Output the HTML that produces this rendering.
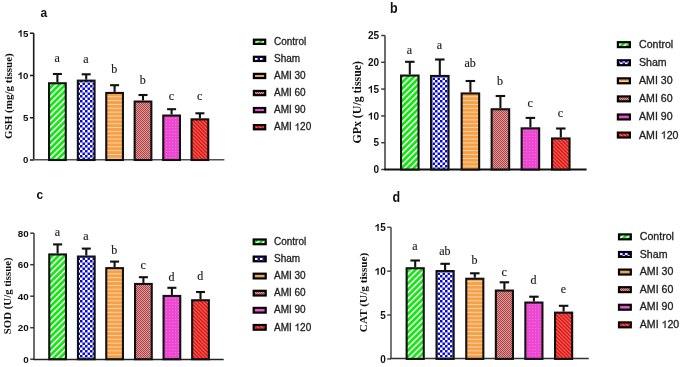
<!DOCTYPE html>
<html><head><meta charset="utf-8"><title>Figure</title>
<style>
html,body{margin:0;padding:0;background:#fff;}
body{width:685px;height:367px;overflow:hidden;font-family:"Liberation Sans", sans-serif;}
svg{display:block;will-change:transform;filter:blur(0.35px);}
</style></head>
<body>
<svg width="685" height="367" viewBox="0 0 685 367">

<defs>
  <pattern id="pG" patternUnits="userSpaceOnUse" width="4.3" height="4.3" patternTransform="rotate(45)">
    <rect width="4.3" height="4.3" fill="#14e614"/>
    <rect width="1.5" height="4.3" fill="#ffffff"/>
  </pattern>
  <pattern id="pB" patternUnits="userSpaceOnUse" width="5" height="5">
    <rect width="5" height="5" fill="#ffffff"/>
    <rect width="2.5" height="2.5" fill="#0a0ad2"/>
    <rect x="2.5" y="2.5" width="2.5" height="2.5" fill="#0a0ad2"/>
  </pattern>
  <pattern id="pO" patternUnits="userSpaceOnUse" width="4" height="3.85">
    <rect width="4" height="3.85" fill="#f6a048"/>
    <rect width="4" height="1" fill="#fbd4a6"/>
  </pattern>
  <pattern id="pM" patternUnits="userSpaceOnUse" width="2" height="2">
    <rect width="2" height="2" fill="#e09a9a"/>
    <rect width="1" height="1" fill="#a84448"/>
    <rect x="1" y="1" width="1" height="1" fill="#a84448"/>
  </pattern>
  <pattern id="pP" patternUnits="userSpaceOnUse" width="3" height="3">
    <rect width="3" height="3" fill="#ee48d2"/>
    <rect x="1" y="1" width="1" height="1" fill="#f27ade"/>
  </pattern>
  <pattern id="pR" patternUnits="userSpaceOnUse" width="2.6" height="2.6" patternTransform="rotate(-45)">
    <rect width="2.6" height="2.6" fill="#ea2020"/>
    <rect width="0.8" height="2.6" fill="#ff7466"/>
    <rect x="1.5" width="0.6" height="2.6" fill="#c01414"/>
  </pattern>
</defs>

<rect width="685" height="367" fill="#fff"/>
<g><text transform="translate(40.6,16.9) scale(1,1.12)" font-family='"Liberation Sans", sans-serif' font-weight="bold" font-size="12" fill="#111" >a</text><line x1="33.7" y1="33.2" x2="33.7" y2="160" stroke="#1a1a1a" stroke-width="1.6"/><line x1="29.9" y1="160" x2="33.7" y2="160" stroke="#1a1a1a" stroke-width="1.5"/><text transform="translate(23.01,163.49) scale(1,1.0)" font-family='"Liberation Sans", sans-serif' font-weight="bold" font-size="9.7" fill="#111" >0</text><line x1="29.9" y1="117.73" x2="33.7" y2="117.73" stroke="#1a1a1a" stroke-width="1.5"/><text transform="translate(23.01,121.23) scale(1,1.0)" font-family='"Liberation Sans", sans-serif' font-weight="bold" font-size="9.7" fill="#111" >5</text><line x1="29.9" y1="75.47" x2="33.7" y2="75.47" stroke="#1a1a1a" stroke-width="1.5"/><text transform="translate(17.61,78.96) scale(1,1.0)" font-family='"Liberation Sans", sans-serif' font-weight="bold" font-size="9.7" fill="#111" > 0</text><path transform="translate(17.61,78.96) scale(0.00474,-0.00474)" d="M850 0H575V1010Q480 930 370 880Q260 830 150 800V1050Q300 1100 440 1210Q580 1320 640 1409H850Z" fill="#111" /><line x1="29.9" y1="33.2" x2="33.7" y2="33.2" stroke="#1a1a1a" stroke-width="1.5"/><text transform="translate(17.61,36.69) scale(1,1.0)" font-family='"Liberation Sans", sans-serif' font-weight="bold" font-size="9.7" fill="#111" > 5</text><path transform="translate(17.61,36.69) scale(0.00474,-0.00474)" d="M850 0H575V1010Q480 930 370 880Q260 830 150 800V1050Q300 1100 440 1210Q580 1320 640 1409H850Z" fill="#111" /><line x1="32.9" y1="159.7" x2="224.4" y2="159.7" stroke="#505050" stroke-width="1.5"/><line x1="57.4" y1="74" x2="57.4" y2="82.2" stroke="#111" stroke-width="2.1"/><line x1="52.9" y1="74" x2="61.9" y2="74" stroke="#111" stroke-width="2.1"/><rect x="49.05" y="83.25" width="16.7" height="76.75" fill="url(#pG)" stroke="#111" stroke-width="2.1"/><text x="57.1" y="62" text-anchor="middle" font-family='"Liberation Serif", serif' font-size="12" fill="#1a1a1a" stroke="#1a1a1a" stroke-width="0.15">a</text><line x1="86.2" y1="74.3" x2="86.2" y2="79.6" stroke="#111" stroke-width="2.1"/><line x1="81.7" y1="74.3" x2="90.7" y2="74.3" stroke="#111" stroke-width="2.1"/><rect x="77.85" y="80.65" width="16.7" height="79.35" fill="url(#pB)" stroke="#111" stroke-width="2.1"/><text x="85.9" y="62.5" text-anchor="middle" font-family='"Liberation Serif", serif' font-size="12" fill="#1a1a1a" stroke="#1a1a1a" stroke-width="0.15">a</text><line x1="114.6" y1="85.2" x2="114.6" y2="91.9" stroke="#111" stroke-width="2.1"/><line x1="110.1" y1="85.2" x2="119.1" y2="85.2" stroke="#111" stroke-width="2.1"/><rect x="106.25" y="92.95" width="16.7" height="67.05" fill="url(#pO)" stroke="#111" stroke-width="2.1"/><text x="114.3" y="72.9" text-anchor="middle" font-family='"Liberation Serif", serif' font-size="12" fill="#1a1a1a" stroke="#1a1a1a" stroke-width="0.15">b</text><line x1="143" y1="95" x2="143" y2="100.5" stroke="#111" stroke-width="2.1"/><line x1="138.5" y1="95" x2="147.5" y2="95" stroke="#111" stroke-width="2.1"/><rect x="134.65" y="101.55" width="16.7" height="58.45" fill="url(#pM)" stroke="#111" stroke-width="2.1"/><text x="142.7" y="83.8" text-anchor="middle" font-family='"Liberation Serif", serif' font-size="12" fill="#1a1a1a" stroke="#1a1a1a" stroke-width="0.15">b</text><line x1="171.6" y1="109.2" x2="171.6" y2="114.5" stroke="#111" stroke-width="2.1"/><line x1="167.1" y1="109.2" x2="176.1" y2="109.2" stroke="#111" stroke-width="2.1"/><rect x="163.25" y="115.55" width="16.7" height="44.45" fill="url(#pP)" stroke="#111" stroke-width="2.1"/><text x="171.3" y="99.6" text-anchor="middle" font-family='"Liberation Serif", serif' font-size="12" fill="#1a1a1a" stroke="#1a1a1a" stroke-width="0.15">c</text><line x1="199.9" y1="113.3" x2="199.9" y2="118.3" stroke="#111" stroke-width="2.1"/><line x1="195.4" y1="113.3" x2="204.4" y2="113.3" stroke="#111" stroke-width="2.1"/><rect x="191.55" y="119.35" width="16.7" height="40.65" fill="url(#pR)" stroke="#111" stroke-width="2.1"/><text x="199.6" y="100" text-anchor="middle" font-family='"Liberation Serif", serif' font-size="12" fill="#1a1a1a" stroke="#1a1a1a" stroke-width="0.15">c</text><text transform="translate(12,96.1) rotate(-90)" text-anchor="middle" font-family='"Liberation Serif", serif' font-weight="bold" font-size="11" fill="#111">GSH (mg/g tissue)</text><rect x="253.9" y="39.7" width="11.3" height="4.2" fill="url(#pG)" stroke="#000" stroke-width="2.2"/><text transform="translate(274,44.8) scale(1,1.0)" font-family='"Liberation Sans", sans-serif' font-size="10" fill="#222" stroke="#222" stroke-width="0.3">Control</text><rect x="253.9" y="56.78" width="11.3" height="4.2" fill="url(#pB)" stroke="#000" stroke-width="2.2"/><text transform="translate(274,61.88) scale(1,1.0)" font-family='"Liberation Sans", sans-serif' font-size="10" fill="#222" stroke="#222" stroke-width="0.3">Sham</text><rect x="253.9" y="73.86" width="11.3" height="4.2" fill="url(#pO)" stroke="#000" stroke-width="2.2"/><text transform="translate(274,78.96) scale(1,1.0)" font-family='"Liberation Sans", sans-serif' font-size="10" fill="#222" stroke="#222" stroke-width="0.3">AMI 30</text><rect x="253.9" y="90.94" width="11.3" height="4.2" fill="url(#pM)" stroke="#000" stroke-width="2.2"/><text transform="translate(274,96.04) scale(1,1.0)" font-family='"Liberation Sans", sans-serif' font-size="10" fill="#222" stroke="#222" stroke-width="0.3">AMI 60</text><rect x="253.9" y="108.02" width="11.3" height="4.2" fill="url(#pP)" stroke="#000" stroke-width="2.2"/><text transform="translate(274,113.12) scale(1,1.0)" font-family='"Liberation Sans", sans-serif' font-size="10" fill="#222" stroke="#222" stroke-width="0.3">AMI 90</text><rect x="253.9" y="125.1" width="11.3" height="4.2" fill="url(#pR)" stroke="#000" stroke-width="2.2"/><text transform="translate(274,130.2) scale(1,1.0)" font-family='"Liberation Sans", sans-serif' font-size="10" fill="#222" stroke="#222" stroke-width="0.3">AMI  20</text><path transform="translate(294.56,130.2) scale(0.00488,-0.00488)" d="M763 0H583V1100Q520 1040 415 980Q310 920 222 890V1060Q370 1130 480 1230Q590 1330 635 1409H763Z" fill="#222" stroke="#222" stroke-width="61.4"/></g>
<g><text transform="translate(390,13.3) scale(1,1.12)" font-family='"Liberation Sans", sans-serif' font-weight="bold" font-size="12.5" fill="#111" >b</text><line x1="385" y1="35.5" x2="385" y2="169.5" stroke="#3c3c3c" stroke-width="1.5"/><line x1="381.2" y1="169.5" x2="385" y2="169.5" stroke="#3c3c3c" stroke-width="1.5"/><text transform="translate(373.44,173.1) scale(1,1.0)" font-family='"Liberation Sans", sans-serif' font-weight="bold" font-size="10" fill="#111" >0</text><line x1="381.2" y1="142.7" x2="385" y2="142.7" stroke="#3c3c3c" stroke-width="1.5"/><text transform="translate(373.44,146.3) scale(1,1.0)" font-family='"Liberation Sans", sans-serif' font-weight="bold" font-size="10" fill="#111" >5</text><line x1="381.2" y1="115.9" x2="385" y2="115.9" stroke="#3c3c3c" stroke-width="1.5"/><text transform="translate(367.88,119.5) scale(1,1.0)" font-family='"Liberation Sans", sans-serif' font-weight="bold" font-size="10" fill="#111" > 0</text><path transform="translate(367.88,119.5) scale(0.00488,-0.00488)" d="M850 0H575V1010Q480 930 370 880Q260 830 150 800V1050Q300 1100 440 1210Q580 1320 640 1409H850Z" fill="#111" /><line x1="381.2" y1="89.1" x2="385" y2="89.1" stroke="#3c3c3c" stroke-width="1.5"/><text transform="translate(367.88,92.7) scale(1,1.0)" font-family='"Liberation Sans", sans-serif' font-weight="bold" font-size="10" fill="#111" > 5</text><path transform="translate(367.88,92.7) scale(0.00488,-0.00488)" d="M850 0H575V1010Q480 930 370 880Q260 830 150 800V1050Q300 1100 440 1210Q580 1320 640 1409H850Z" fill="#111" /><line x1="381.2" y1="62.3" x2="385" y2="62.3" stroke="#3c3c3c" stroke-width="1.5"/><text transform="translate(367.88,65.9) scale(1,1.0)" font-family='"Liberation Sans", sans-serif' font-weight="bold" font-size="10" fill="#111" >20</text><line x1="381.2" y1="35.5" x2="385" y2="35.5" stroke="#3c3c3c" stroke-width="1.5"/><text transform="translate(367.88,39.1) scale(1,1.0)" font-family='"Liberation Sans", sans-serif' font-weight="bold" font-size="10" fill="#111" >25</text><line x1="384.2" y1="169.5" x2="586.6" y2="169.5" stroke="#111" stroke-width="2.2"/><line x1="409.8" y1="61.8" x2="409.8" y2="74.5" stroke="#111" stroke-width="2.1"/><line x1="405.05" y1="61.8" x2="414.55" y2="61.8" stroke="#111" stroke-width="2.1"/><rect x="401.05" y="75.55" width="17.5" height="93.95" fill="url(#pG)" stroke="#111" stroke-width="2.1"/><text x="409.5" y="53.9" text-anchor="middle" font-family='"Liberation Serif", serif' font-size="12" fill="#1a1a1a" stroke="#1a1a1a" stroke-width="0.15">a</text><line x1="439.8" y1="59.5" x2="439.8" y2="74.9" stroke="#111" stroke-width="2.1"/><line x1="435.05" y1="59.5" x2="444.55" y2="59.5" stroke="#111" stroke-width="2.1"/><rect x="431.05" y="75.95" width="17.5" height="93.55" fill="url(#pB)" stroke="#111" stroke-width="2.1"/><text x="439.5" y="49.1" text-anchor="middle" font-family='"Liberation Serif", serif' font-size="12" fill="#1a1a1a" stroke="#1a1a1a" stroke-width="0.15">a</text><line x1="470.4" y1="81" x2="470.4" y2="92.4" stroke="#111" stroke-width="2.1"/><line x1="465.65" y1="81" x2="475.15" y2="81" stroke="#111" stroke-width="2.1"/><rect x="461.65" y="93.45" width="17.5" height="76.05" fill="url(#pO)" stroke="#111" stroke-width="2.1"/><text x="470.1" y="67.2" text-anchor="middle" font-family='"Liberation Serif", serif' font-size="12" fill="#1a1a1a" stroke="#1a1a1a" stroke-width="0.15">ab</text><line x1="500.4" y1="96" x2="500.4" y2="108.2" stroke="#111" stroke-width="2.1"/><line x1="495.65" y1="96" x2="505.15" y2="96" stroke="#111" stroke-width="2.1"/><rect x="491.65" y="109.25" width="17.5" height="60.25" fill="url(#pM)" stroke="#111" stroke-width="2.1"/><text x="500.1" y="85.3" text-anchor="middle" font-family='"Liberation Serif", serif' font-size="12" fill="#1a1a1a" stroke="#1a1a1a" stroke-width="0.15">b</text><line x1="530.4" y1="117.9" x2="530.4" y2="127.3" stroke="#111" stroke-width="2.1"/><line x1="525.65" y1="117.9" x2="535.15" y2="117.9" stroke="#111" stroke-width="2.1"/><rect x="521.65" y="128.35" width="17.5" height="41.15" fill="url(#pP)" stroke="#111" stroke-width="2.1"/><text x="530.1" y="107.3" text-anchor="middle" font-family='"Liberation Serif", serif' font-size="12" fill="#1a1a1a" stroke="#1a1a1a" stroke-width="0.15">c</text><line x1="560.8" y1="128.5" x2="560.8" y2="137.4" stroke="#111" stroke-width="2.1"/><line x1="556.05" y1="128.5" x2="565.55" y2="128.5" stroke="#111" stroke-width="2.1"/><rect x="552.05" y="138.45" width="17.5" height="31.05" fill="url(#pR)" stroke="#111" stroke-width="2.1"/><text x="560.5" y="116.6" text-anchor="middle" font-family='"Liberation Serif", serif' font-size="12" fill="#1a1a1a" stroke="#1a1a1a" stroke-width="0.15">c</text><text transform="translate(360.9,102.3) rotate(-90)" text-anchor="middle" font-family='"Liberation Serif", serif' font-weight="bold" font-size="11.9" fill="#111">GPx (U/g tissue)</text><rect x="617.9" y="42.2" width="12" height="4.9" fill="url(#pG)" stroke="#000" stroke-width="2.2"/><text transform="translate(639,48.1) scale(1,1.0)" font-family='"Liberation Sans", sans-serif' font-size="10.6" fill="#222" stroke="#222" stroke-width="0.3">Control</text><rect x="617.9" y="60.28" width="12" height="4.9" fill="url(#pB)" stroke="#000" stroke-width="2.2"/><text transform="translate(639,66.18) scale(1,1.0)" font-family='"Liberation Sans", sans-serif' font-size="10.6" fill="#222" stroke="#222" stroke-width="0.3">Sham</text><rect x="617.9" y="78.36" width="12" height="4.9" fill="url(#pO)" stroke="#000" stroke-width="2.2"/><text transform="translate(639,84.26) scale(1,1.0)" font-family='"Liberation Sans", sans-serif' font-size="10.6" fill="#222" stroke="#222" stroke-width="0.3">AMI 30</text><rect x="617.9" y="96.44" width="12" height="4.9" fill="url(#pM)" stroke="#000" stroke-width="2.2"/><text transform="translate(639,102.34) scale(1,1.0)" font-family='"Liberation Sans", sans-serif' font-size="10.6" fill="#222" stroke="#222" stroke-width="0.3">AMI 60</text><rect x="617.9" y="114.52" width="12" height="4.9" fill="url(#pP)" stroke="#000" stroke-width="2.2"/><text transform="translate(639,120.42) scale(1,1.0)" font-family='"Liberation Sans", sans-serif' font-size="10.6" fill="#222" stroke="#222" stroke-width="0.3">AMI 90</text><rect x="617.9" y="132.6" width="12" height="4.9" fill="url(#pR)" stroke="#000" stroke-width="2.2"/><text transform="translate(639,138.5) scale(1,1.0)" font-family='"Liberation Sans", sans-serif' font-size="10.6" fill="#222" stroke="#222" stroke-width="0.3">AMI  20</text><path transform="translate(660.79,138.5) scale(0.00518,-0.00518)" d="M763 0H583V1100Q520 1040 415 980Q310 920 222 890V1060Q370 1130 480 1230Q590 1330 635 1409H763Z" fill="#222" stroke="#222" stroke-width="58.0"/></g>
<g><text transform="translate(36.6,199) scale(1,1.08)" font-family='"Liberation Sans", sans-serif' font-weight="bold" font-size="12" fill="#111" >c</text><line x1="34" y1="233.2" x2="34" y2="359.2" stroke="#3c3c3c" stroke-width="1.5"/><line x1="30.2" y1="359.2" x2="34" y2="359.2" stroke="#3c3c3c" stroke-width="1.5"/><text transform="translate(23.25,362.73) scale(1,1.0)" font-family='"Liberation Sans", sans-serif' font-weight="bold" font-size="9.8" fill="#111" >0</text><line x1="30.2" y1="327.7" x2="34" y2="327.7" stroke="#3c3c3c" stroke-width="1.5"/><text transform="translate(17.8,331.23) scale(1,1.0)" font-family='"Liberation Sans", sans-serif' font-weight="bold" font-size="9.8" fill="#111" >20</text><line x1="30.2" y1="296.2" x2="34" y2="296.2" stroke="#3c3c3c" stroke-width="1.5"/><text transform="translate(17.8,299.73) scale(1,1.0)" font-family='"Liberation Sans", sans-serif' font-weight="bold" font-size="9.8" fill="#111" >40</text><line x1="30.2" y1="264.7" x2="34" y2="264.7" stroke="#3c3c3c" stroke-width="1.5"/><text transform="translate(17.8,268.23) scale(1,1.0)" font-family='"Liberation Sans", sans-serif' font-weight="bold" font-size="9.8" fill="#111" >60</text><line x1="30.2" y1="233.2" x2="34" y2="233.2" stroke="#3c3c3c" stroke-width="1.5"/><text transform="translate(17.8,236.73) scale(1,1.0)" font-family='"Liberation Sans", sans-serif' font-weight="bold" font-size="9.8" fill="#111" >80</text><line x1="33.2" y1="359.5" x2="223.7" y2="359.5" stroke="#222" stroke-width="1.4"/><line x1="57.6" y1="244.4" x2="57.6" y2="253.4" stroke="#111" stroke-width="2.1"/><line x1="53.1" y1="244.4" x2="62.1" y2="244.4" stroke="#111" stroke-width="2.1"/><rect x="49.25" y="254.45" width="16.7" height="104.75" fill="url(#pG)" stroke="#111" stroke-width="2.1"/><text x="57.3" y="235.6" text-anchor="middle" font-family='"Liberation Serif", serif' font-size="12" fill="#1a1a1a" stroke="#1a1a1a" stroke-width="0.15">a</text><line x1="86.3" y1="248.6" x2="86.3" y2="255.5" stroke="#111" stroke-width="2.1"/><line x1="81.8" y1="248.6" x2="90.8" y2="248.6" stroke="#111" stroke-width="2.1"/><rect x="77.95" y="256.55" width="16.7" height="102.65" fill="url(#pB)" stroke="#111" stroke-width="2.1"/><text x="86" y="239.5" text-anchor="middle" font-family='"Liberation Serif", serif' font-size="12" fill="#1a1a1a" stroke="#1a1a1a" stroke-width="0.15">a</text><line x1="114.6" y1="261.6" x2="114.6" y2="267.1" stroke="#111" stroke-width="2.1"/><line x1="110.1" y1="261.6" x2="119.1" y2="261.6" stroke="#111" stroke-width="2.1"/><rect x="106.25" y="268.15" width="16.7" height="91.05" fill="url(#pO)" stroke="#111" stroke-width="2.1"/><text x="114.3" y="254.3" text-anchor="middle" font-family='"Liberation Serif", serif' font-size="12" fill="#1a1a1a" stroke="#1a1a1a" stroke-width="0.15">b</text><line x1="143.4" y1="277.2" x2="143.4" y2="282.9" stroke="#111" stroke-width="2.1"/><line x1="138.9" y1="277.2" x2="147.9" y2="277.2" stroke="#111" stroke-width="2.1"/><rect x="135.05" y="283.95" width="16.7" height="75.25" fill="url(#pM)" stroke="#111" stroke-width="2.1"/><text x="143.1" y="268.6" text-anchor="middle" font-family='"Liberation Serif", serif' font-size="12" fill="#1a1a1a" stroke="#1a1a1a" stroke-width="0.15">c</text><line x1="171.9" y1="287.8" x2="171.9" y2="294.9" stroke="#111" stroke-width="2.1"/><line x1="167.4" y1="287.8" x2="176.4" y2="287.8" stroke="#111" stroke-width="2.1"/><rect x="163.55" y="295.95" width="16.7" height="63.25" fill="url(#pP)" stroke="#111" stroke-width="2.1"/><text x="171.6" y="280.6" text-anchor="middle" font-family='"Liberation Serif", serif' font-size="12" fill="#1a1a1a" stroke="#1a1a1a" stroke-width="0.15">d</text><line x1="200.5" y1="292" x2="200.5" y2="299.2" stroke="#111" stroke-width="2.1"/><line x1="196" y1="292" x2="205" y2="292" stroke="#111" stroke-width="2.1"/><rect x="192.15" y="300.25" width="16.7" height="58.95" fill="url(#pR)" stroke="#111" stroke-width="2.1"/><text x="200.2" y="279.5" text-anchor="middle" font-family='"Liberation Serif", serif' font-size="12" fill="#1a1a1a" stroke="#1a1a1a" stroke-width="0.15">d</text><text transform="translate(11.3,295.75) rotate(-90)" text-anchor="middle" font-family='"Liberation Serif", serif' font-weight="bold" font-size="10.8" fill="#111">SOD (U/g tissue)</text><rect x="253.7" y="239.5" width="12" height="4.7" fill="url(#pG)" stroke="#000" stroke-width="2.2"/><text transform="translate(274,245) scale(1,1.0)" font-family='"Liberation Sans", sans-serif' font-size="10" fill="#222" stroke="#222" stroke-width="0.3">Control</text><rect x="253.7" y="256.6" width="12" height="4.7" fill="url(#pB)" stroke="#000" stroke-width="2.2"/><text transform="translate(274,262.1) scale(1,1.0)" font-family='"Liberation Sans", sans-serif' font-size="10" fill="#222" stroke="#222" stroke-width="0.3">Sham</text><rect x="253.7" y="273.7" width="12" height="4.7" fill="url(#pO)" stroke="#000" stroke-width="2.2"/><text transform="translate(274,279.2) scale(1,1.0)" font-family='"Liberation Sans", sans-serif' font-size="10" fill="#222" stroke="#222" stroke-width="0.3">AMI 30</text><rect x="253.7" y="290.8" width="12" height="4.7" fill="url(#pM)" stroke="#000" stroke-width="2.2"/><text transform="translate(274,296.3) scale(1,1.0)" font-family='"Liberation Sans", sans-serif' font-size="10" fill="#222" stroke="#222" stroke-width="0.3">AMI 60</text><rect x="253.7" y="307.9" width="12" height="4.7" fill="url(#pP)" stroke="#000" stroke-width="2.2"/><text transform="translate(274,313.4) scale(1,1.0)" font-family='"Liberation Sans", sans-serif' font-size="10" fill="#222" stroke="#222" stroke-width="0.3">AMI 90</text><rect x="253.7" y="325" width="12" height="4.7" fill="url(#pR)" stroke="#000" stroke-width="2.2"/><text transform="translate(274,330.5) scale(1,1.0)" font-family='"Liberation Sans", sans-serif' font-size="10" fill="#222" stroke="#222" stroke-width="0.3">AMI  20</text><path transform="translate(294.56,330.5) scale(0.00488,-0.00488)" d="M763 0H583V1100Q520 1040 415 980Q310 920 222 890V1060Q370 1130 480 1230Q590 1330 635 1409H763Z" fill="#222" stroke="#222" stroke-width="61.4"/></g>
<g><text transform="translate(392.4,201.6) scale(1,1.12)" font-family='"Liberation Sans", sans-serif' font-weight="bold" font-size="12.5" fill="#111" >d</text><line x1="391" y1="227.3" x2="391" y2="358.9" stroke="#484848" stroke-width="1.5"/><line x1="387.2" y1="358.9" x2="391" y2="358.9" stroke="#484848" stroke-width="1.5"/><text transform="translate(380.14,362.5) scale(1,1.0)" font-family='"Liberation Sans", sans-serif' font-weight="bold" font-size="10" fill="#111" >0</text><line x1="387.2" y1="315.03" x2="391" y2="315.03" stroke="#484848" stroke-width="1.5"/><text transform="translate(380.14,318.63) scale(1,1.0)" font-family='"Liberation Sans", sans-serif' font-weight="bold" font-size="10" fill="#111" >5</text><line x1="387.2" y1="271.17" x2="391" y2="271.17" stroke="#484848" stroke-width="1.5"/><text transform="translate(374.58,274.77) scale(1,1.0)" font-family='"Liberation Sans", sans-serif' font-weight="bold" font-size="10" fill="#111" > 0</text><path transform="translate(374.58,274.77) scale(0.00488,-0.00488)" d="M850 0H575V1010Q480 930 370 880Q260 830 150 800V1050Q300 1100 440 1210Q580 1320 640 1409H850Z" fill="#111" /><line x1="387.2" y1="227.3" x2="391" y2="227.3" stroke="#484848" stroke-width="1.5"/><text transform="translate(374.58,230.9) scale(1,1.0)" font-family='"Liberation Sans", sans-serif' font-weight="bold" font-size="10" fill="#111" > 5</text><path transform="translate(374.58,230.9) scale(0.00488,-0.00488)" d="M850 0H575V1010Q480 930 370 880Q260 830 150 800V1050Q300 1100 440 1210Q580 1320 640 1409H850Z" fill="#111" /><line x1="390.2" y1="358.6" x2="588.8" y2="358.6" stroke="#333" stroke-width="1.5"/><line x1="415.2" y1="260.5" x2="415.2" y2="267.2" stroke="#111" stroke-width="2.1"/><line x1="410.45" y1="260.5" x2="419.95" y2="260.5" stroke="#111" stroke-width="2.1"/><rect x="406.65" y="268.25" width="17.1" height="90.65" fill="url(#pG)" stroke="#111" stroke-width="2.1"/><text x="414.9" y="250" text-anchor="middle" font-family='"Liberation Serif", serif' font-size="12" fill="#1a1a1a" stroke="#1a1a1a" stroke-width="0.15">a</text><line x1="445.1" y1="263.8" x2="445.1" y2="270" stroke="#111" stroke-width="2.1"/><line x1="440.35" y1="263.8" x2="449.85" y2="263.8" stroke="#111" stroke-width="2.1"/><rect x="436.55" y="271.05" width="17.1" height="87.85" fill="url(#pB)" stroke="#111" stroke-width="2.1"/><text x="444.8" y="255.2" text-anchor="middle" font-family='"Liberation Serif", serif' font-size="12" fill="#1a1a1a" stroke="#1a1a1a" stroke-width="0.15">ab</text><line x1="474.8" y1="273.3" x2="474.8" y2="277.7" stroke="#111" stroke-width="2.1"/><line x1="470.05" y1="273.3" x2="479.55" y2="273.3" stroke="#111" stroke-width="2.1"/><rect x="466.25" y="278.75" width="17.1" height="80.15" fill="url(#pO)" stroke="#111" stroke-width="2.1"/><text x="474.5" y="264.3" text-anchor="middle" font-family='"Liberation Serif", serif' font-size="12" fill="#1a1a1a" stroke="#1a1a1a" stroke-width="0.15">b</text><line x1="504.4" y1="282.3" x2="504.4" y2="289.5" stroke="#111" stroke-width="2.1"/><line x1="499.65" y1="282.3" x2="509.15" y2="282.3" stroke="#111" stroke-width="2.1"/><rect x="495.85" y="290.55" width="17.1" height="68.35" fill="url(#pM)" stroke="#111" stroke-width="2.1"/><text x="504.1" y="275.8" text-anchor="middle" font-family='"Liberation Serif", serif' font-size="12" fill="#1a1a1a" stroke="#1a1a1a" stroke-width="0.15">c</text><line x1="533.9" y1="296.7" x2="533.9" y2="301.5" stroke="#111" stroke-width="2.1"/><line x1="529.15" y1="296.7" x2="538.65" y2="296.7" stroke="#111" stroke-width="2.1"/><rect x="525.35" y="302.55" width="17.1" height="56.35" fill="url(#pP)" stroke="#111" stroke-width="2.1"/><text x="533.6" y="284.3" text-anchor="middle" font-family='"Liberation Serif", serif' font-size="12" fill="#1a1a1a" stroke="#1a1a1a" stroke-width="0.15">d</text><line x1="563.6" y1="305.8" x2="563.6" y2="311.6" stroke="#111" stroke-width="2.1"/><line x1="558.85" y1="305.8" x2="568.35" y2="305.8" stroke="#111" stroke-width="2.1"/><rect x="555.05" y="312.65" width="17.1" height="46.25" fill="url(#pR)" stroke="#111" stroke-width="2.1"/><text x="563.3" y="292.9" text-anchor="middle" font-family='"Liberation Serif", serif' font-size="12" fill="#1a1a1a" stroke="#1a1a1a" stroke-width="0.15">e</text><text transform="translate(367.3,292.45) rotate(-90)" text-anchor="middle" font-family='"Liberation Serif", serif' font-weight="bold" font-size="11.25" fill="#111">CAT (U/g tissue)</text><rect x="619" y="234.4" width="11.8" height="4.9" fill="url(#pG)" stroke="#000" stroke-width="2.2"/><text transform="translate(639.8,240) scale(1,1.0)" font-family='"Liberation Sans", sans-serif' font-size="10.6" fill="#222" stroke="#222" stroke-width="0.3">Control</text><rect x="619" y="252" width="11.8" height="4.9" fill="url(#pB)" stroke="#000" stroke-width="2.2"/><text transform="translate(639.8,257.6) scale(1,1.0)" font-family='"Liberation Sans", sans-serif' font-size="10.6" fill="#222" stroke="#222" stroke-width="0.3">Sham</text><rect x="619" y="269.6" width="11.8" height="4.9" fill="url(#pO)" stroke="#000" stroke-width="2.2"/><text transform="translate(639.8,275.2) scale(1,1.0)" font-family='"Liberation Sans", sans-serif' font-size="10.6" fill="#222" stroke="#222" stroke-width="0.3">AMI 30</text><rect x="619" y="287.2" width="11.8" height="4.9" fill="url(#pM)" stroke="#000" stroke-width="2.2"/><text transform="translate(639.8,292.8) scale(1,1.0)" font-family='"Liberation Sans", sans-serif' font-size="10.6" fill="#222" stroke="#222" stroke-width="0.3">AMI 60</text><rect x="619" y="304.8" width="11.8" height="4.9" fill="url(#pP)" stroke="#000" stroke-width="2.2"/><text transform="translate(639.8,310.4) scale(1,1.0)" font-family='"Liberation Sans", sans-serif' font-size="10.6" fill="#222" stroke="#222" stroke-width="0.3">AMI 90</text><rect x="619" y="322.4" width="11.8" height="4.9" fill="url(#pR)" stroke="#000" stroke-width="2.2"/><text transform="translate(639.8,328) scale(1,1.0)" font-family='"Liberation Sans", sans-serif' font-size="10.6" fill="#222" stroke="#222" stroke-width="0.3">AMI  20</text><path transform="translate(661.59,328) scale(0.00518,-0.00518)" d="M763 0H583V1100Q520 1040 415 980Q310 920 222 890V1060Q370 1130 480 1230Q590 1330 635 1409H763Z" fill="#222" stroke="#222" stroke-width="58.0"/></g>
</svg>
</body></html>
